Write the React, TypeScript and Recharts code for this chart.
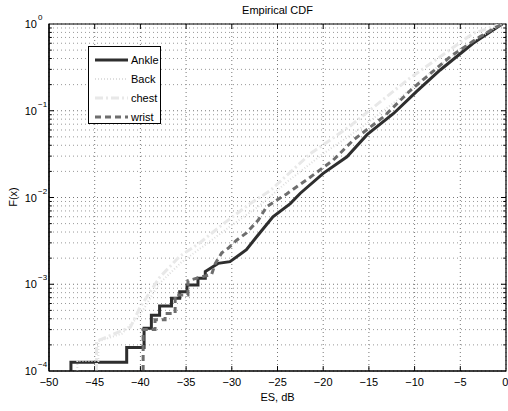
import { LineChart, Line, XAxis, YAxis, CartesianGrid, ReferenceLine, ReferenceArea, Legend } from 'recharts';

const FONT = '"Liberation Sans", Arial, Helvetica, sans-serif';

// empirical CDF readings (ES in dB, F(x)); repeated x values are the jumps
const ankleX = [-47.6, -47.6, -41.5, -41.5, -39.6, -39.6, -38.8, -38.8, -37.9, -37.9, -36.6, -36.6, -35.7, -35.7, -34.9, -34.9, -33.7, -33.7, -32.9, -32.9, -31.5, -30.2, -28.4, -27.3, -25.5, -23.6, -22.5, -20.0, -17.4, -15.2, -12.3, -9.8, -7.2, -3.6, -1.0, -0.4];
const ankleY = [1e-4, 1.26e-4, 1.26e-4, 1.86e-4, 1.86e-4, 3.1e-4, 3.1e-4, 4.4e-4, 4.4e-4, 5.6e-4, 5.6e-4, 6.9e-4, 6.9e-4, 8.2e-4, 8.2e-4, 9.8e-4, 9.8e-4, 1.17e-3, 1.17e-3, 1.4e-3, 1.74e-3, 1.82e-3, 2.5e-3, 3.5e-3, 6.0e-3, 8.5e-3, 1.12e-2, 1.9e-2, 2.95e-2, 5.3e-2, 9.3e-2, 0.166, 0.295, 0.6, 0.91, 1];

const backX = [-46.9, -46.9, -44.6, -44.6, -42.0, -40.0, -38.0, -35.5, -33.0, -30.0, -27.0, -24.0, -20.0, -16.0, -12.0, -8.0, -4.0, -0.5];
const backY = [1e-4, 1.3e-4, 1.3e-4, 2.2e-4, 2.7e-4, 4.5e-4, 1.0e-3, 1.8e-3, 2.8e-3, 4.8e-3, 8.0e-3, 1.5e-2, 3.2e-2, 6.2e-2, 0.13, 0.29, 0.6, 1];

const chestX = [-44.8, -44.8, -41.1, -40.0, -37.9, -35.7, -33.5, -30.9, -28.0, -25.8, -21.4, -17.1, -10.7, -7.2, -3.6, -0.5];
const chestY = [1e-4, 2.2e-4, 3.2e-4, 5.5e-4, 1.2e-3, 2.1e-3, 3.0e-3, 5.0e-3, 8.5e-3, 1.2e-2, 3.2e-2, 6.6e-2, 0.23, 0.42, 0.78, 1];

const wristX = [-39.7, -39.7, -38.4, -38.4, -37.3, -37.3, -36.2, -36.2, -34.8, -34.8, -33.5, -32.2, -31.8, -31.1, -30.4, -29.5, -28.4, -27.1, -26.2, -24.0, -21.8, -18.9, -16.7, -13.4, -10.5, -6.1, -3.0, -1.0, -0.4];
const wristY = [1e-4, 3.0e-4, 3.0e-4, 3.9e-4, 3.9e-4, 4.6e-4, 4.6e-4, 7.5e-4, 7.5e-4, 1.1e-3, 1.2e-3, 1.3e-3, 1.74e-3, 2.3e-3, 2.6e-3, 3.2e-3, 3.9e-3, 5.5e-3, 7.8e-3, 1.1e-2, 1.6e-2, 2.7e-2, 4.6e-2, 8.5e-2, 0.17, 0.42, 0.7, 0.93, 1];

const xTicks = [-50, -45, -40, -35, -30, -25, -20, -15, -10, -5, 0];
const yTicks = [1e-4, 1e-3, 1e-2, 1e-1, 1];
const yExponents = ['-4', '-3', '-2', '-1', '0'];

const minorY: number[] = [];
[1e-4, 1e-3, 1e-2, 1e-1].forEach((d) => {
  for (let m = 2; m <= 9; m++) minorY.push(d * m);
});

const toPoints = (xs: number[], ys: number[]) => xs.map((x, i) => ({ x, y: ys[i] }));

const series = [
  { name: 'Ankle', data: toPoints(ankleX, ankleY), stroke: '#2e2e2e', width: 3, dash: undefined },
  { name: 'Back', data: toPoints(backX, backY), stroke: '#dedede', width: 2, dash: '1 2' },
  { name: 'chest', data: toPoints(chestX, chestY), stroke: '#e8e8e8', width: 3, dash: '8 3 2 3' },
  { name: 'wrist', data: toPoints(wristX, wristY), stroke: '#6e6e6e', width: 3, dash: '6 4' },
];

const fmtX = (v: number) => (v < 0 ? '\u2212' + Math.abs(v) : String(v));

const YTick = ({ x, y, payload }: any) => {
  const idx = yTicks.findIndex((t) => Math.abs(t - payload.value) < payload.value * 1e-6);
  const exp = idx >= 0 ? yExponents[idx] : '';
  return (
    <g>
      <text x={x - 12} y={y + 4} textAnchor="end" fontSize={11} fontFamily={FONT} fill="#000">10</text>
      <text x={x - 11} y={y - 4} textAnchor="start" fontSize={8} fontFamily={FONT} fill="#000">
        {exp.replace('-', '\u2212')}
      </text>
    </g>
  );
};

const renderLegend = () => (
  <div
    style={{
      border: '1px solid #000',
      background: '#fff',
      width: 73,
      height: 78,
      boxSizing: 'border-box',
      paddingTop: 3,
      fontFamily: FONT,
      fontSize: 11,
    }}
  >
    {series.map((s) => (
      <div key={s.name} style={{ display: 'flex', alignItems: 'center', height: 19 }}>
        <svg width={34} height={6} style={{ marginLeft: 6 }}>
          <line x1={0} y1={3} x2={33} y2={3} stroke={s.stroke} strokeWidth={s.width} strokeDasharray={s.dash} />
        </svg>
        <span style={{ marginLeft: 2, color: '#000' }}>{s.name}</span>
      </div>
    ))}
  </div>
);

const dx = 0.55; // ~5px in dB
const dyMajor = 1.14; // ~5px on the log axis

export default function App() {
  return (
    <div style={{ position: 'absolute', left: 0, top: 0, width: 508, height: 411, background: '#fff', fontFamily: FONT }}>
      <div style={{ position: 'absolute', left: 0, width: 555, top: 4, textAlign: 'center', fontSize: 11, color: '#000' }}>
        Empirical CDF
      </div>
      <div style={{ position: 'absolute', left: 0, width: 555, top: 391, textAlign: 'center', fontSize: 11, color: '#000' }}>
        ES, dB
      </div>
      <div
        style={{
          position: 'absolute',
          left: 13,
          top: 197,
          fontSize: 11,
          color: '#000',
          transform: 'translate(-50%, -50%) rotate(-90deg)',
          whiteSpace: 'nowrap',
        }}
      >
        F(x)
      </div>
      <LineChart width={508} height={411} margin={{ top: 24, right: 2, bottom: 10, left: 9 }}>
        <CartesianGrid stroke="#777" strokeDasharray="1 3" />
        {minorY.map((v) => (
          <ReferenceLine key={`mg-${v}`} y={v} stroke="#999" strokeDasharray="1 3" />
        ))}
        <XAxis
          type="number"
          dataKey="x"
          domain={[-50, 0]}
          ticks={xTicks}
          allowDataOverflow
          tickFormatter={fmtX}
          tickLine={false}
          tickSize={0}
          tickMargin={7}
          height={30}
          axisLine={{ stroke: '#000', strokeWidth: 1.2 }}
          tick={{ fill: '#000', fontSize: 11, fontFamily: FONT }}
        />
        <YAxis
          type="number"
          scale="log"
          domain={[1e-4, 1]}
          ticks={yTicks}
          allowDataOverflow
          tickLine={false}
          tickSize={0}
          tickMargin={0}
          width={40}
          axisLine={{ stroke: '#000', strokeWidth: 1.2 }}
          tick={<YTick />}
        />
        <ReferenceArea x1={-50} x2={0} y1={1e-4} y2={1} fill="none" stroke="#000" strokeWidth={1.2} />
        {xTicks.slice(1, -1).map((t) => (
          <ReferenceLine key={`xb-${t}`} segment={[{ x: t, y: 1e-4 }, { x: t, y: 1e-4 * dyMajor }]} stroke="#000" />
        ))}
        {xTicks.slice(1, -1).map((t) => (
          <ReferenceLine key={`xt-${t}`} segment={[{ x: t, y: 1 }, { x: t, y: 1 / dyMajor }]} stroke="#000" />
        ))}
        {yTicks.slice(1, -1).map((t) => (
          <ReferenceLine key={`yl-${t}`} segment={[{ x: -50, y: t }, { x: -50 + dx, y: t }]} stroke="#000" />
        ))}
        {yTicks.slice(1, -1).map((t) => (
          <ReferenceLine key={`yr-${t}`} segment={[{ x: 0, y: t }, { x: -dx, y: t }]} stroke="#000" />
        ))}
        {minorY.map((t) => (
          <ReferenceLine key={`ml-${t}`} segment={[{ x: -50, y: t }, { x: -50 + dx / 1.8, y: t }]} stroke="#000" />
        ))}
        {minorY.map((t) => (
          <ReferenceLine key={`mr-${t}`} segment={[{ x: 0, y: t }, { x: -dx / 1.8, y: t }]} stroke="#000" />
        ))}
        {series.map((s) => (
          <Line
            key={s.name}
            data={s.data}
            dataKey="y"
            name={s.name}
            type="linear"
            stroke={s.stroke}
            strokeWidth={s.width}
            strokeDasharray={s.dash}
            dot={false}
            activeDot={false}
            isAnimationActive={false}
          />
        ))}
        <Legend
          layout="vertical"
          align="center"
          verticalAlign="middle"
          content={renderLegend}
          wrapperStyle={{ position: 'absolute', left: 88, top: 46, width: 75, height: 80 }}
        />
      </LineChart>
    </div>
  );
}
